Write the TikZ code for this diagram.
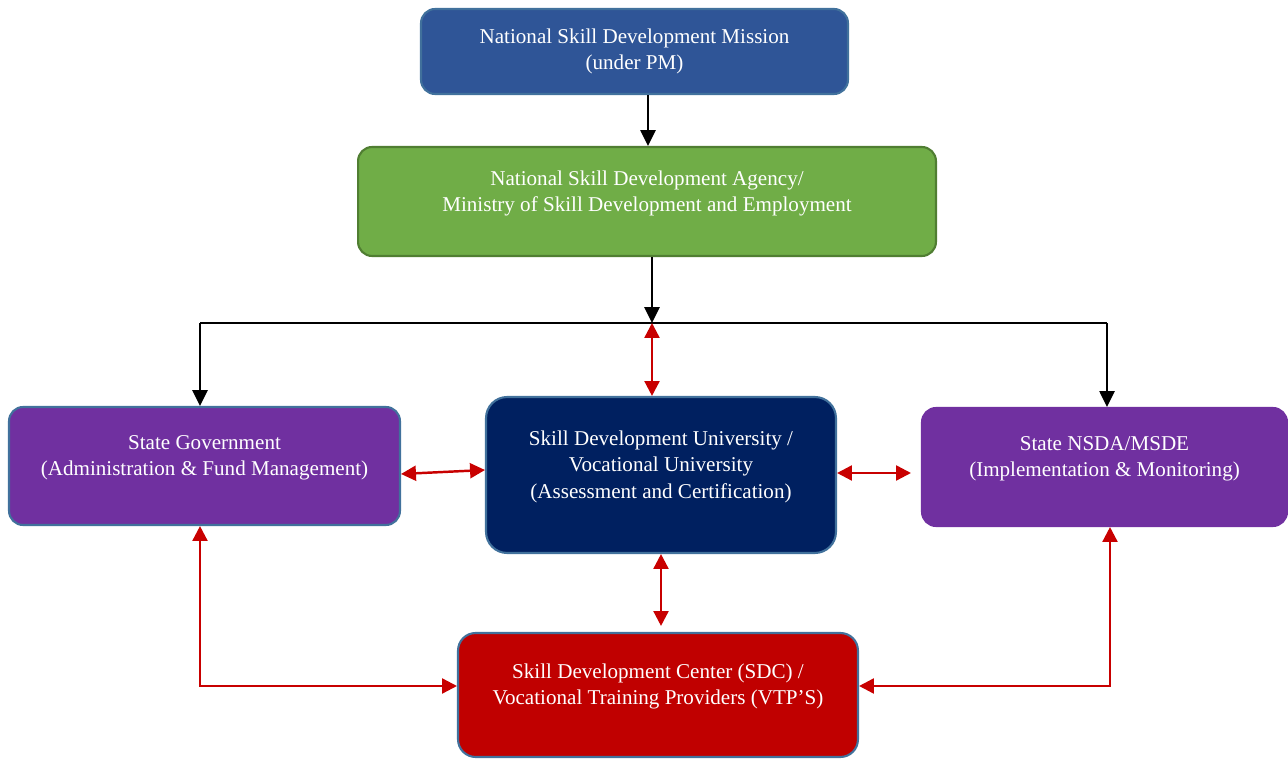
\documentclass[tikz,border=0pt]{standalone}
\usepackage{fontspec}
\setmainfont{Liberation Serif}
\usepackage{tikz}
\usetikzlibrary{positioning, arrows.meta, calc}

\begin{document}
\begin{tikzpicture}[
    x=0.02cm, y=-0.02cm,
    box/.style={draw=boxB, line width=1.2pt, rounded corners=8pt, align=center,
                text=white, font=\fontsize{12}{15}\selectfont, inner sep=0pt},
    up/.style={text depth=0.42cm},
    blk/.style={-{Triangle[length=9pt,width=8.5pt]}, black, line width=1.4pt},
    link/.style={{Triangle[length=8.5pt,width=8.5pt]}-{Triangle[length=8.5pt,width=8.5pt]},
                 rlink, line width=1.4pt},
]

% Color definitions
\definecolor{boxB}{RGB}{65,113,156}
\definecolor{missC}{RGB}{47,85,151}
\definecolor{agenC}{RGB}{112,173,71}
\definecolor{agenB}{RGB}{80,126,50}
\definecolor{stateC}{RGB}{112,48,160}
\definecolor{univC}{RGB}{0,32,96}
\definecolor{centC}{RGB}{192,0,0}
\definecolor{rlink}{RGB}{200,0,0}

\useasboundingbox (0,0) rectangle (1288,759);

% Boxes top to bottom
\node[box, fill=missC, minimum width=8.54cm, minimum height=1.7cm] (nsdm) at (634.5,51.5)
  {National Skill Development Mission\\(under PM)};

\node[box, up, fill=agenC, draw=agenB, minimum width=11.56cm, minimum height=2.18cm] (nsda) at (647,201.5)
  {National Skill Development Agency/\\Ministry of Skill Development and Employment};

\node[box, up, fill=stateC, minimum width=7.82cm, minimum height=2.36cm] (gov) at (204.5,466)
  {State Government\\(Administration \& Fund Management)};

\node[box, up, fill=univC, rounded corners=12pt, minimum width=7cm, minimum height=3.12cm] (sdu) at (661,475)
  {Skill Development University /\\Vocational University\\(Assessment and Certification)};

\node[box, up, fill=stateC, draw=stateC, minimum width=7.3cm, minimum height=2.36cm] (msde) at (1104.5,467)
  {State NSDA/MSDE\\(Implementation \& Monitoring)};

\node[box, up, fill=centC, rounded corners=10pt, minimum width=8cm, minimum height=2.48cm] (sdc) at (658,695)
  {Skill Development Center (SDC) /\\Vocational Training Providers (VTP'S)};

% Junctions
\coordinate (jl) at (200,323);
\coordinate (jm) at (652,323);
\coordinate (jr) at (1107,323);
\coordinate (bl) at (200,686);
\coordinate (br) at (1110,686);

% Black flow
\draw[blk] ($(nsdm.south)+(13.5,0)$) -- ($(nsdm.south |- nsda.north)+(13.5,0)$);
\draw[blk] (jm |- nsda.south) -- (jm);
\draw[black, line width=0.8pt] (jl) -- (jr);
\draw[blk] (jl) -- (jl |- gov.north);
\draw[blk] (jr) -- (jr |- msde.north);

% Red links
\draw[link] (jm) -- (jm |- sdu.north);
\draw[link] (gov.east |- 0,474) -- (sdu.west |- 0,470);
\draw[link] (sdu.east |- 0,473) -- ($(msde.west |- 0,473)+(-10,0)$);
\draw[link] (sdu.south) -- ($(sdu.south |- sdc.north)+(0,-6)$);
\draw[link] (gov.south -| bl) -- (bl) -- (bl -| sdc.west);
\draw[link] (msde.south -| br) -- (br) -- (br -| sdc.east);

\end{tikzpicture}
\end{document}
